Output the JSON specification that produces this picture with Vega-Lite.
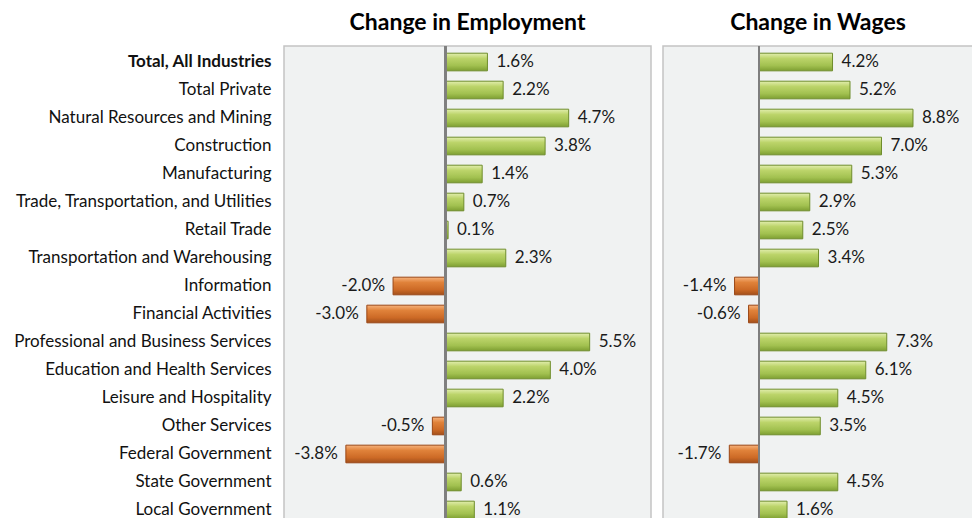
{
  "$schema": "https://vega.github.io/schema/vega-lite/v6.json",
  "background": "white",
  "padding": {"left": 0, "top": 11, "right": 0, "bottom": 0},
  "config": {
    "font": "Lato",
    "view": {"fill": "#f0f2f2", "stroke": "#c3c3c3", "strokeWidth": 1.5},
    "title": {"fontSize": 23, "fontWeight": "bold", "font": "Lato", "color": "#000000", "offset": 10}
  },
  "data": {
    "values": [
      {"industry": "Total, All Industries", "emp": 1.6, "wage": 4.2},
      {"industry": "Total Private", "emp": 2.2, "wage": 5.2},
      {"industry": "Natural Resources and Mining", "emp": 4.7, "wage": 8.8},
      {"industry": "Construction", "emp": 3.8, "wage": 7.0},
      {"industry": "Manufacturing", "emp": 1.4, "wage": 5.3},
      {"industry": "Trade, Transportation, and Utilities", "emp": 0.7, "wage": 2.9},
      {"industry": "Retail Trade", "emp": 0.1, "wage": 2.5},
      {"industry": "Transportation and Warehousing", "emp": 2.3, "wage": 3.4},
      {"industry": "Information", "emp": -2.0, "wage": -1.4},
      {"industry": "Financial Activities", "emp": -3.0, "wage": -0.6},
      {"industry": "Professional and Business Services", "emp": 5.5, "wage": 7.3},
      {"industry": "Education and Health Services", "emp": 4.0, "wage": 6.1},
      {"industry": "Leisure and Hospitality", "emp": 2.2, "wage": 4.5},
      {"industry": "Other Services", "emp": -0.5, "wage": 3.5},
      {"industry": "Federal Government", "emp": -3.8, "wage": -1.7},
      {"industry": "State Government", "emp": 0.6, "wage": 4.5},
      {"industry": "Local Government", "emp": 1.1, "wage": 1.6}
    ]
  },
  "spacing": 10,
  "resolve": {"scale": {"y": "independent", "x": "independent"}, "axis": {"y": "independent"}},
  "hconcat": [
    {
      "width": 367,
      "height": 480,
      "title": {"text": "Change in Employment"},
      "transform": [
        {"calculate": "replace(format(datum.emp, '.1f'), '\u2212', '-') + '%'", "as": "lbl"}
      ],
      "encoding": {
        "y": {
          "field": "industry", "type": "nominal",
          "sort": ["Total, All Industries", "Total Private", "Natural Resources and Mining", "Construction", "Manufacturing", "Trade, Transportation, and Utilities", "Retail Trade", "Transportation and Warehousing", "Information", "Financial Activities", "Professional and Business Services", "Education and Health Services", "Leisure and Hospitality", "Other Services", "Federal Government", "State Government", "Local Government"],
          "scale": {"paddingInner": 0.37, "paddingOuter": 0.257},
          "axis": {
            "title": null, "domain": false, "ticks": false, "labelFontSize": 17, "labelColor": "#111111",
            "labelPadding": 13, "minExtent": 283, "maxExtent": 283, "labelLimit": 400,
            "labelFontWeight": {"condition": {"test": "datum.value === 'Total, All Industries'", "value": "bold"}, "value": "normal"}
          }
        },
        "x": {"field": "emp", "type": "quantitative", "scale": {"domain": [-6.16, 7.84], "nice": false, "zero": false}, "axis": null}
      },
      "layer": [
        {
          "transform": [{"filter": "datum.emp >= 0"}],
          "mark": {"type": "bar", "stroke": "#6f8d2c", "strokeWidth": 1,
            "color": {"gradient": "linear", "x1": 0, "y1": 0, "x2": 0, "y2": 1,
              "stops": [{"offset": 0, "color": "#e2eeae"}, {"offset": 0.3, "color": "#bcd46a"}, {"offset": 0.7, "color": "#a2c150"}, {"offset": 1, "color": "#7e9f32"}]}},
          "encoding": {"x2": {"datum": 0}}
        },
        {
          "transform": [{"filter": "datum.emp < 0"}],
          "mark": {"type": "bar", "stroke": "#9a4716", "strokeWidth": 1,
            "color": {"gradient": "linear", "x1": 0, "y1": 0, "x2": 0, "y2": 1,
              "stops": [{"offset": 0, "color": "#f6b27c"}, {"offset": 0.3, "color": "#e0823a"}, {"offset": 0.7, "color": "#cd6a26"}, {"offset": 1, "color": "#a3501b"}]}},
          "encoding": {"x2": {"datum": 0}}
        },
        {
          "mark": {"type": "rule", "color": "#7f7f7f", "strokeWidth": 1.5},
          "encoding": {"x": {"datum": 0}, "y": null}
        },
        {
          "transform": [{"filter": "datum.emp >= 0"}],
          "mark": {"type": "text", "align": "left", "dx": 9, "fontSize": 17, "color": "#1a1a1a"},
          "encoding": {"text": {"field": "lbl"}}
        },
        {
          "transform": [{"filter": "datum.emp < 0"}],
          "mark": {"type": "text", "align": "right", "dx": -8, "fontSize": 17, "color": "#1a1a1a"},
          "encoding": {"text": {"field": "lbl"}}
        }
      ]
    },
    {
      "width": 310,
      "height": 480,
      "title": {"text": "Change in Wages"},
      "transform": [
        {"calculate": "replace(format(datum.wage, '.1f'), '\u2212', '-') + '%'", "as": "lbl"}
      ],
      "encoding": {
        "y": {
          "field": "industry", "type": "nominal",
          "sort": ["Total, All Industries", "Total Private", "Natural Resources and Mining", "Construction", "Manufacturing", "Trade, Transportation, and Utilities", "Retail Trade", "Transportation and Warehousing", "Information", "Financial Activities", "Professional and Business Services", "Education and Health Services", "Leisure and Hospitality", "Other Services", "Federal Government", "State Government", "Local Government"],
          "scale": {"paddingInner": 0.37, "paddingOuter": 0.257},
          "axis": null
        },
        "x": {"field": "wage", "type": "quantitative", "scale": {"domain": [-5.49, 12.23], "nice": false, "zero": false}, "axis": null}
      },
      "layer": [
        {
          "transform": [{"filter": "datum.wage >= 0"}],
          "mark": {"type": "bar", "stroke": "#6f8d2c", "strokeWidth": 1,
            "color": {"gradient": "linear", "x1": 0, "y1": 0, "x2": 0, "y2": 1,
              "stops": [{"offset": 0, "color": "#e2eeae"}, {"offset": 0.3, "color": "#bcd46a"}, {"offset": 0.7, "color": "#a2c150"}, {"offset": 1, "color": "#7e9f32"}]}},
          "encoding": {"x2": {"datum": 0}}
        },
        {
          "transform": [{"filter": "datum.wage < 0"}],
          "mark": {"type": "bar", "stroke": "#9a4716", "strokeWidth": 1,
            "color": {"gradient": "linear", "x1": 0, "y1": 0, "x2": 0, "y2": 1,
              "stops": [{"offset": 0, "color": "#f6b27c"}, {"offset": 0.3, "color": "#e0823a"}, {"offset": 0.7, "color": "#cd6a26"}, {"offset": 1, "color": "#a3501b"}]}},
          "encoding": {"x2": {"datum": 0}}
        },
        {
          "mark": {"type": "rule", "color": "#7f7f7f", "strokeWidth": 1.5},
          "encoding": {"x": {"datum": 0}, "y": null}
        },
        {
          "transform": [{"filter": "datum.wage >= 0"}],
          "mark": {"type": "text", "align": "left", "dx": 9, "fontSize": 17, "color": "#1a1a1a"},
          "encoding": {"text": {"field": "lbl"}}
        },
        {
          "transform": [{"filter": "datum.wage < 0"}],
          "mark": {"type": "text", "align": "right", "dx": -8, "fontSize": 17, "color": "#1a1a1a"},
          "encoding": {"text": {"field": "lbl"}}
        }
      ]
    }
  ]
}
